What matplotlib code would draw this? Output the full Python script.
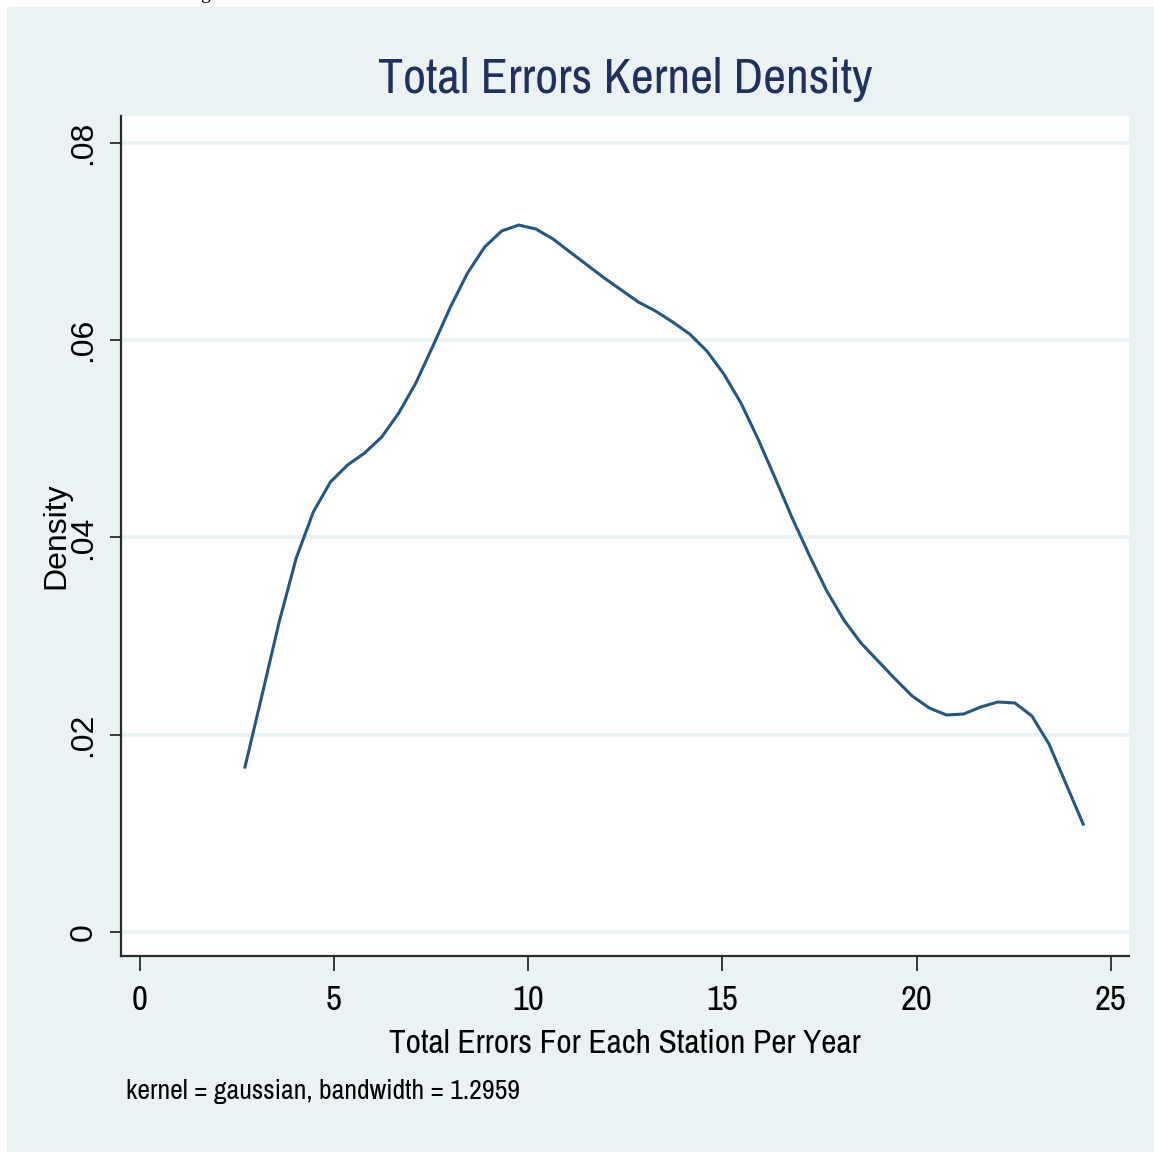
import matplotlib
matplotlib.use("Agg")
import matplotlib.pyplot as plt
from matplotlib.patches import Rectangle
from matplotlib import font_manager

# ---- data ----
x_vals = [2.71, 3.15, 3.59, 4.03, 4.47, 4.91, 5.35, 5.79, 6.23, 6.67,
          7.11, 7.56, 8.00, 8.44, 8.88, 9.32, 9.76, 10.20, 10.64, 11.08,
          11.52, 11.96, 12.40, 12.84, 13.28, 13.72, 14.16, 14.60, 15.04, 15.48,
          15.92, 16.37, 16.81, 17.25, 17.69, 18.13, 18.57, 19.01, 19.45, 19.89,
          20.33, 20.77, 21.21, 21.65, 22.09, 22.53, 22.97, 23.41, 23.85, 24.29]
density = [0.01670, 0.02401, 0.03141, 0.03790, 0.04257, 0.04561, 0.04733, 0.04855, 0.05017, 0.05261,
           0.05565, 0.05950, 0.06336, 0.06680, 0.06944, 0.07107, 0.07167, 0.07127, 0.07026, 0.06893,
           0.06762, 0.06630, 0.06508, 0.06386, 0.06295, 0.06184, 0.06062, 0.05890, 0.05656, 0.05362,
           0.04997, 0.04591, 0.04186, 0.03810, 0.03455, 0.03161, 0.02928, 0.02745, 0.02563, 0.02390,
           0.02269, 0.02198, 0.02208, 0.02279, 0.02330, 0.02320, 0.02188, 0.01904, 0.01498, 0.01092]
x_ticks = [0, 5, 10, 15, 20, 25]
x_tick_labels = ["0", "5", "10", "15", "20", "25"]
y_ticks = [0, 0.02, 0.04, 0.06, 0.08]
y_tick_labels = ["0", ".02", ".04", ".06", ".08"]

title = "Total Errors Kernel Density"
x_label = "Total Errors For Each Station Per Year"
y_label = "Density"
note = "kernel = gaussian, bandwidth = 1.2959"

# ---- fonts ----
names = {f.name for f in font_manager.fontManager.ttflist}
narrow_candidates = ["Liberation Sans Narrow", "Arial Narrow", "Archivo Narrow", "PT Sans Narrow",
                     "Roboto Condensed", "Pragati Narrow", "Fira Sans Condensed",
                     "IBM Plex Sans Condensed", "Encode Sans Condensed", "Open Sans Condensed"]
narrow_first = next((n for n in narrow_candidates if n in names), None)
narrow = ([narrow_first] if narrow_first else []) + ["Liberation Sans", "DejaVu Sans"]
regular = ["Liberation Sans", "DejaVu Sans"]

BG = "#EAF2F3"
LINE = "#245784"
TITLE_C = "#1E3160"
W = 1154.0

fig = plt.figure(figsize=(11.54, 11.54), dpi=100, facecolor="white")
fig.patches.append(Rectangle((7 / W, 2 / W), (W - 7) / W, (W - 9) / W,
                             transform=fig.transFigure, facecolor=BG,
                             edgecolor="none", zorder=-10))

left, right, top, bottom = 120.7, 1129, 116, 956
ax = fig.add_axes([left / W, 1 - bottom / W, (right - left) / W, (bottom - top) / W])
ax.set_facecolor("white")

ax.plot(x_vals, density, color=LINE, lw=2.2, solid_joinstyle="miter", zorder=3)

ax.set_xlim(-0.489, 25.47)
ax.set_ylim(-0.00246, 0.08273)

ax.set_xticks(x_ticks)
ax.set_xticklabels(x_tick_labels, family=narrow, fontsize=25)
ax.set_yticks(y_ticks)
ax.set_yticklabels(y_tick_labels, family=regular, fontsize=23, rotation=90, va="center")

ax.yaxis.grid(True, color=BG, lw=2.6, zorder=0)
ax.xaxis.grid(False)
ax.set_axisbelow(True)

for s in ["top", "right"]:
    ax.spines[s].set_visible(False)
for s in ["left", "bottom"]:
    ax.spines[s].set_color("#2a2a2a")
    ax.spines[s].set_linewidth(1.6)

ax.tick_params(axis="x", length=11, width=1.3, color="#2a2a2a", pad=9)
ax.tick_params(axis="y", length=8, width=1.3, color="#2a2a2a", pad=8)

fig.text(625 / W, 1 - 80 / W, title, ha="center", va="center",
         family=narrow, fontsize=36, color=TITLE_C)
fig.text(625 / W, 1 - 1044 / W, x_label, ha="center", va="center",
         family=narrow, fontsize=24, color="black")
fig.text(56 / W, 1 - 536 / W, y_label, ha="center", va="center", rotation=90,
         family=regular, fontsize=23, color="black")
fig.text(126 / W, 1 - 1092 / W, note, ha="left", va="center",
         family=narrow, fontsize=20, color="black")
fig.text(205 / W, 1 + 1 / W, "g", ha="center", va="baseline",
         family=["Liberation Serif", "DejaVu Serif"], fontsize=14, color="black")

fig.savefig("out.png", dpi=100, facecolor="white")
